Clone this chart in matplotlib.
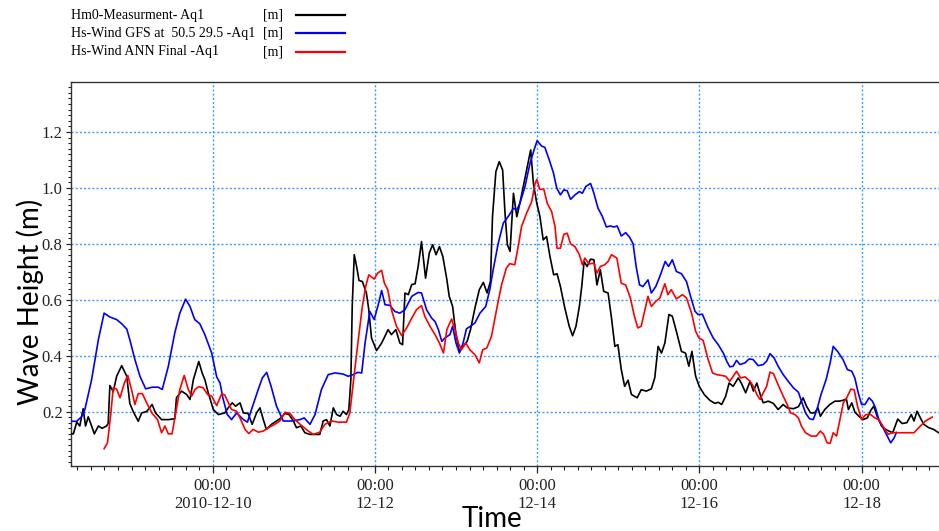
import matplotlib
matplotlib.use("Agg")
import matplotlib.pyplot as plt
from matplotlib.ticker import MultipleLocator, FixedLocator, FixedFormatter
from matplotlib.lines import Line2D

# ---- data: hours since 2010-12-10 00:00 ----
meas_t = [-42.2, -41.2, -40.2, -39.3, -38.3, -37.6, -36.8, -35.8, -35.0, -33.8, -32.7, -31.4, -30.9, -30.4,
          -29.4, -28.4, -26.9, -25.4, -24.5, -23.5, -22.0, -21.0, -19.5, -17.9, -16.9, -15.1, -13.1, -11.2,
          -10.7, -9.2, -7.7, -6.7, -5.7, -4.1, -3.1, -2.3, -1.3, 0.2, 1.7, 3.6, 4.6, 5.8, 6.8, 8.1, 9.1, 10.5,
          11.7, 13.0, 14.0, 15.0, 15.9, 17.4, 18.9, 19.9, 21.4, 22.6, 23.9, 24.8, 26.1, 27.3, 28.8, 30.3, 31.7,
          32.7, 33.7, 34.7, 35.7, 36.7, 37.7, 38.6, 39.6, 40.3, 40.9, 41.3, 41.9, 42.6, 43.3, 44.3, 45.5, 46.2,
          47.0, 48.5, 50.0, 50.5, 51.9, 52.9, 54.2, 55.4, 56.2, 56.9, 57.9, 58.9, 59.9, 60.8, 61.8, 63.0, 64.1,
          65.1, 66.1, 67.1, 68.1, 69.3, 70.0, 71.0, 72.0, 73.0, 74.1, 75.3, 76.3, 77.6, 78.9, 80.1, 81.2, 82.2,
          82.8, 83.8, 84.8, 85.8, 86.5, 87.2, 88.0, 89.0, 90.0, 90.9, 92.1, 93.1, 94.1, 94.9, 95.9, 96.8, 97.8,
          98.8, 99.8, 100.9, 101.9, 102.9, 104.2, 105.5, 106.5, 107.5, 108.5, 109.2, 109.9, 110.8, 111.8, 112.8,
          113.7, 114.7, 115.7, 117.0, 118.0, 119.0, 119.9, 120.9, 121.9, 122.9, 123.9, 125.6, 126.8, 128.3,
          129.8, 130.8, 131.8, 132.8, 133.8, 135.0, 136.0, 137.2, 138.7, 139.9, 140.9, 141.8, 142.9, 144.0,
          145.5, 147.1, 148.6, 149.6, 150.6, 151.8, 152.8, 154.0, 155.5, 156.4, 157.7, 159.0, 160.0, 161.0,
          162.0, 162.9, 164.4, 165.9, 167.3, 168.8, 170.0, 171.8, 173.3, 174.7, 175.7, 176.9, 178.1, 179.1,
          179.8, 181.1, 182.6, 184.1, 185.3, 186.5, 187.5, 188.1, 189.1, 190.0, 191.2, 192.4, 193.7, 194.7,
          195.6, 196.6, 197.9, 199.1, 200.1, 201.2, 202.2, 202.7, 204.0, 205.4, 206.7, 207.5, 208.4, 209.4,
          210.4, 211.9, 213.3, 214.8]
meas_v = [0.121, 0.12, 0.162, 0.148, 0.21, 0.148, 0.181, 0.148, 0.12, 0.148, 0.14, 0.148, 0.157, 0.293,
          0.271, 0.326, 0.364, 0.326, 0.229, 0.2, 0.165, 0.195, 0.2, 0.225, 0.195, 0.171, 0.171, 0.174,
          0.249, 0.273, 0.261, 0.243, 0.314, 0.379, 0.338, 0.314, 0.267, 0.207, 0.189, 0.195, 0.213, 0.231, 0.219, 0.231, 0.195, 0.193,
          0.154, 0.195, 0.213, 0.171, 0.136, 0.154, 0.166, 0.174, 0.193, 0.189, 0.166, 0.142, 0.148, 0.124, 0.118, 0.118, 0.118,
          0.166, 0.171, 0.148, 0.213, 0.189, 0.183, 0.201, 0.189, 0.207, 0.314, 0.576, 0.761, 0.719, 0.669, 0.665, 0.624, 0.564,
          0.463, 0.418, 0.445, 0.457, 0.493, 0.475, 0.493, 0.445, 0.439, 0.624, 0.618, 0.654, 0.657, 0.719, 0.808, 0.677, 0.767,
          0.797, 0.761, 0.79, 0.755, 0.672, 0.612, 0.576, 0.475, 0.415, 0.433, 0.451, 0.493, 0.57, 0.636, 0.662, 0.624, 0.666,
          0.897, 1.058, 1.094, 1.064, 0.91, 0.797, 0.773, 0.981, 0.897, 0.945, 1.016, 1.076, 1.136, 1.016, 0.945, 0.9, 0.814,
          0.826, 0.755, 0.689, 0.693, 0.647, 0.57, 0.505, 0.471, 0.505, 0.576, 0.647, 0.737, 0.719, 0.745, 0.743,
          0.653, 0.707, 0.63, 0.624, 0.535, 0.433, 0.439, 0.35, 0.29, 0.312, 0.261, 0.249, 0.278, 0.273,
          0.281, 0.32, 0.433, 0.409, 0.445, 0.547, 0.541, 0.487, 0.415, 0.409, 0.362, 0.415, 0.326, 0.289,
          0.26, 0.24, 0.229, 0.233, 0.225, 0.255, 0.302, 0.29, 0.32, 0.302, 0.267, 0.308, 0.273, 0.302,
          0.261, 0.231, 0.237, 0.229, 0.207, 0.225, 0.213, 0.21, 0.217, 0.249, 0.219, 0.195, 0.195, 0.213,
          0.183, 0.207, 0.225, 0.237, 0.237, 0.24, 0.245, 0.207, 0.231, 0.198, 0.183, 0.171, 0.177, 0.204,
          0.219, 0.183, 0.148, 0.136, 0.13, 0.124, 0.157, 0.173, 0.157, 0.16, 0.189, 0.166, 0.201, 0.177,
          0.154, 0.142, 0.136, 0.124]

gfs_t = [-42.2, -40.2, -38.8, -37.8, -35.8, -33.8, -32.1, -30.4, -28.4, -26.9, -25.4, -24.5, -23.0, -21.5,
         -19.8, -17.9, -16.1, -14.9, -13.1, -11.2, -9.7, -8.0, -6.7, -5.3, -3.8, -2.3, -0.3, 1.2, 2.2, 3.0,
         4.3, 5.6, 7.1, 9.1, 10.3, 11.5, 13.5, 14.7, 16.0, 17.3, 18.9, 20.9, 23.4, 25.8, 27.1, 28.8, 30.3,
         32.2, 34.2, 36.2, 38.6, 40.1, 41.6, 42.9, 44.1, 45.1, 46.5, 47.8, 49.0, 50.0, 51.0, 52.4, 53.9,
         55.4, 56.9, 58.9, 60.8, 61.8, 63.3, 64.8, 65.8, 66.8, 67.8, 68.7, 70.2, 71.0, 72.0, 73.0, 74.1,
         75.1, 76.3, 77.6, 79.1, 80.8, 82.0, 83.0, 84.5, 86.0, 87.4, 89.0, 90.0, 90.9, 92.4, 93.9, 95.1,
         96.0, 97.3, 98.3, 99.6, 100.8, 101.8, 102.9, 103.9, 104.9, 105.9, 107.2, 108.5, 109.4, 110.4, 111.8,
         112.8, 114.0, 115.3, 116.5, 117.7, 118.7, 119.7, 120.9, 122.2, 123.4, 124.4, 125.3, 126.3, 127.3,
         128.8, 129.8, 131.1, 132.3, 133.9, 134.9, 136.0, 137.2, 138.7, 140.2, 141.4, 142.7, 143.6, 144.9,
         146.6, 148.1, 149.6, 151.1, 152.1, 153.0, 154.0, 155.0, 156.0, 157.5, 158.7, 159.9, 161.4, 162.9,
         163.9, 164.9, 166.1, 167.3, 168.8, 170.3, 171.8, 173.3, 174.2, 175.4, 176.6, 177.7, 178.8, 180.0,
         181.5, 182.7, 183.6, 184.9, 186.5, 187.8, 189.1, 190.0, 191.0, 192.0, 193.0, 194.2, 195.2, 196.1,
         197.1, 198.6, 199.6, 200.6, 201.6, 202.3]
gfs_v = [0.165, 0.165, 0.181, 0.207, 0.314, 0.457, 0.552, 0.538, 0.529, 0.514, 0.495, 0.457, 0.386, 0.326,
         0.281, 0.287, 0.287, 0.279, 0.362, 0.481, 0.552, 0.602, 0.576, 0.529, 0.514, 0.475, 0.41, 0.324, 0.302, 0.25,
         0.19, 0.171, 0.195, 0.171, 0.162, 0.207, 0.279, 0.32, 0.34, 0.29, 0.219, 0.166, 0.166, 0.171, 0.177, 0.154, 0.189,
         0.279, 0.332, 0.338, 0.334, 0.326, 0.332, 0.34, 0.338, 0.445, 0.558, 0.529, 0.582, 0.633, 0.582, 0.58, 0.558,
         0.552, 0.564, 0.612, 0.626, 0.624, 0.564, 0.534, 0.522, 0.493, 0.451, 0.463, 0.475, 0.505, 0.445, 0.409, 0.445,
         0.496, 0.505, 0.517, 0.552, 0.576, 0.636, 0.707, 0.802, 0.874, 0.897, 0.927, 0.921, 0.945, 1.004, 1.088, 1.136,
         1.169, 1.15, 1.145, 1.1, 1.055, 1.0, 0.975, 0.993, 0.99, 0.959, 0.975, 0.987, 0.981, 1.005, 1.016,
         0.981, 0.928, 0.898, 0.86, 0.864, 0.86, 0.864, 0.828, 0.84, 0.823, 0.8, 0.719, 0.653, 0.647,
         0.671, 0.624, 0.647, 0.683, 0.737, 0.719, 0.743, 0.701, 0.693, 0.665, 0.612, 0.559, 0.547, 0.548,
         0.499, 0.463, 0.439, 0.409, 0.38, 0.36, 0.362, 0.383, 0.368, 0.374, 0.388, 0.386, 0.364, 0.368,
         0.38, 0.407, 0.392, 0.362, 0.332, 0.308, 0.285, 0.269, 0.237, 0.195, 0.174, 0.171, 0.207, 0.261,
         0.314, 0.374, 0.433, 0.415, 0.386, 0.35, 0.344, 0.32, 0.267, 0.225, 0.225, 0.249, 0.237, 0.213,
         0.171, 0.136, 0.112, 0.088, 0.105, 0.125]

ann_t = [-32.1, -31.1, -30.1, -29.4, -28.4, -27.4, -26.1, -25.1, -24.0, -23.0, -22.0, -20.8, -19.5, -18.0,
         -16.3, -15.1, -14.1, -13.1, -12.0, -10.9, -9.7, -8.4, -7.2, -6.2, -5.2, -4.1, -2.8, -1.5, -0.3, 1.2,
         2.7, 3.6, 4.7, 5.6, 7.1, 8.1, 9.6, 10.7, 12.0, 13.5, 15.0, 16.5, 18.4, 19.9, 21.4, 22.9, 24.3, 26.3,
         28.3, 29.8, 31.7, 33.2, 35.2, 37.2, 39.6, 40.6, 41.6, 43.1, 44.3, 45.3, 46.2, 47.8, 48.8, 50.0, 50.8,
         51.8, 53.0, 54.4, 55.9, 57.4, 58.9, 60.3, 61.8, 62.8, 64.3, 65.8, 67.1, 68.3, 69.3, 70.7, 71.7, 72.7,
         73.6, 74.9, 76.1, 77.6, 78.9, 79.9, 81.1, 82.5, 84.0, 85.5, 86.9, 87.9, 89.4, 90.4, 91.4, 92.9, 94.4,
         95.4, 95.9, 96.8, 98.0, 99.0, 100.3, 101.3, 101.9, 102.9, 103.9, 104.9, 105.9, 107.2, 108.5, 109.4,
         110.1, 111.4, 112.8, 113.7, 114.7, 116.0, 117.0, 118.0, 119.6, 120.9, 122.2, 123.6, 124.8, 125.8,
         126.8, 127.8, 128.8, 129.8, 131.1, 132.3, 133.8, 134.7, 135.7, 137.2, 139.0, 140.2, 141.7, 142.9,
         143.9, 145.1, 146.6, 147.9, 149.1, 150.6, 151.8, 153.0, 154.0, 155.0, 156.2, 157.5, 159.0, 160.0,
         161.0, 162.0, 162.9, 163.9, 164.9, 165.9, 167.3, 168.8, 170.0, 171.0, 172.3, 173.3, 174.2, 175.4,
         177.1, 178.6, 179.8, 180.8, 181.8, 182.7, 183.6, 184.6, 185.4, 186.6, 187.6, 188.8, 189.8, 190.8,
         192.0, 193.2, 194.7, 195.9, 197.1, 198.6, 199.9, 201.0, 202.5, 204.0, 207.5, 209.4, 210.9, 212.9]
ann_v = [0.067, 0.088, 0.195, 0.285, 0.28, 0.249, 0.302, 0.329, 0.279, 0.225, 0.264, 0.264, 0.231, 0.195,
         0.171, 0.124, 0.148, 0.12, 0.12, 0.195, 0.279, 0.329, 0.279, 0.255, 0.279, 0.289, 0.285, 0.261, 0.255, 0.221,
         0.264, 0.259, 0.23, 0.207, 0.201, 0.177, 0.136, 0.121, 0.136, 0.126, 0.13, 0.142, 0.154, 0.166, 0.197, 0.193, 0.171, 0.15,
         0.13, 0.118, 0.126, 0.154, 0.166, 0.162, 0.162, 0.195, 0.302, 0.457, 0.576, 0.648, 0.689, 0.674, 0.695, 0.705, 0.66,
         0.636, 0.56, 0.505, 0.472, 0.499, 0.534, 0.564, 0.579, 0.54, 0.505, 0.475, 0.445, 0.409, 0.493, 0.531, 0.493, 0.445,
         0.421, 0.445, 0.421, 0.403, 0.374, 0.421, 0.427, 0.469, 0.564, 0.654, 0.713, 0.729, 0.725, 0.79, 0.862, 0.91, 0.951,
         1.016, 1.03, 0.995, 0.995, 0.945, 0.915, 0.862, 0.784, 0.784, 0.834, 0.838, 0.8, 0.79, 0.761, 0.725,
         0.749, 0.728, 0.731, 0.695, 0.719, 0.725, 0.737, 0.761, 0.749, 0.659, 0.653, 0.606, 0.54, 0.499,
         0.505, 0.559, 0.612, 0.576, 0.594, 0.606, 0.657, 0.618, 0.636, 0.603, 0.618, 0.606, 0.552, 0.487,
         0.463, 0.455, 0.386, 0.338, 0.332, 0.329, 0.326, 0.308, 0.326, 0.344, 0.32, 0.324, 0.308, 0.29,
         0.261, 0.243, 0.267, 0.29, 0.341, 0.336, 0.296, 0.255, 0.225, 0.195, 0.189, 0.177, 0.148, 0.124,
         0.112, 0.112, 0.13, 0.118, 0.088, 0.086, 0.124, 0.112, 0.16, 0.231, 0.249, 0.28, 0.278, 0.219,
         0.171, 0.189, 0.189, 0.177, 0.171, 0.142, 0.118, 0.124, 0.124, 0.124, 0.124, 0.148, 0.166, 0.18]

x_ticks = [0, 48, 96, 144, 192]
x_ticklabels = ["00:00\n2010-12-10", "00:00\n12-12", "00:00\n12-14", "00:00\n12-16", "00:00\n12-18"]
y_ticks = [0.2, 0.4, 0.6, 0.8, 1.0, 1.2]
y_ticklabels = ["0.2", "0.4", "0.6", "0.8", "1.0", "1.2"]

series_labels = ["Hm0-Measurment- Aq1", "Hs-Wind GFS at  50.5 29.5 -Aq1", "Hs-Wind ANN Final -Aq1"]
series_units = ["[m]", "[m]", "[m]"]
series_colors = ["#000000", "#0000ff", "#ff0000"]

# ---- figure ----
W, H = 939, 531
fig = plt.figure(figsize=(W / 100, H / 100), dpi=100)
ax = fig.add_axes([71 / W, 1 - 466 / H, 1 - 71 / W, (466 - 82) / H])

for t, v, c in zip([meas_t, gfs_t, ann_t], [meas_v, gfs_v, ann_v], series_colors):
    ax.plot(t, v, color=c, lw=1.2, zorder=3)

ax.set_xlim(-41.9, 214.9)
ax.set_ylim(0.005, 1.379)

serif = "Liberation Serif"
ax.xaxis.set_major_locator(FixedLocator(x_ticks))
ax.xaxis.set_major_formatter(FixedFormatter(x_ticklabels))
ax.xaxis.set_minor_locator(MultipleLocator(4))
ax.yaxis.set_major_locator(FixedLocator(y_ticks))
ax.yaxis.set_major_formatter(FixedFormatter(y_ticklabels))
ax.yaxis.set_minor_locator(MultipleLocator(0.02))

ax.tick_params(axis="x", which="major", length=5, width=0.9, pad=3.5, labelsize=12, colors="#222222")
ax.tick_params(axis="x", which="minor", length=3.2, width=0.8, colors="#222222")
ax.tick_params(axis="y", which="major", length=3.5, width=0.9, pad=2.5, labelsize=12, colors="#222222")
ax.tick_params(axis="y", which="minor", length=2.2, width=0.8, colors="#222222")
for lab in ax.get_xticklabels() + ax.get_yticklabels():
    lab.set_fontfamily(serif)

ax.grid(True, which="major", color="#3d9bff", linestyle=(0, (1.5, 1.5)), linewidth=1.0, zorder=1)
for s in ["left", "bottom", "top"]:
    ax.spines[s].set_color("#333333")
    ax.spines[s].set_linewidth(1.0)
ax.spines["right"].set_visible(False)

# axis titles
fig.text(30 / W, 1 - 302 / H, "Wave Height (m)", rotation=90, ha="center", va="center",
         fontsize=20, family="Lato", color="#000000")
fig.text(492 / W, 1 - 519 / H, "Time", ha="center", va="center",
         fontsize=20, family="Lato", color="#000000")

# legend block
ys = [15, 33, 52]
for y, lab, unit, c in zip(ys, series_labels, series_units, series_colors):
    fig.text(71 / W, 1 - y / H, lab, ha="left", va="center", fontsize=10, family=serif)
    fig.text(263 / W, 1 - y / H, unit, ha="left", va="center", fontsize=10, family=serif)
    fig.add_artist(Line2D([296 / W, 345 / W], [1 - y / H, 1 - y / H], color=c, lw=1.6,
                          transform=fig.transFigure))

fig.savefig("out.png", dpi=100)
